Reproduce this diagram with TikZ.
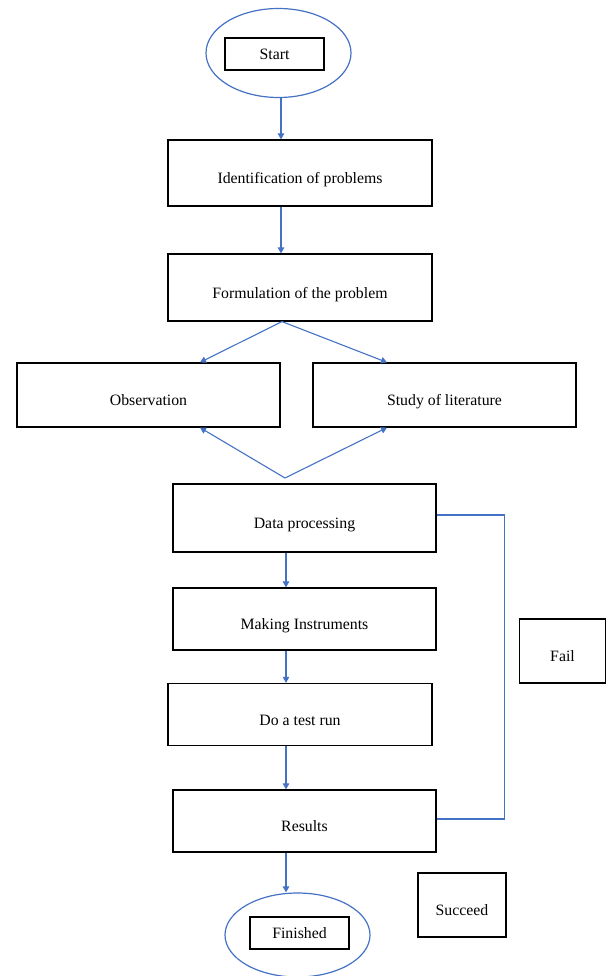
\documentclass[tikz,border=0pt]{standalone}
\usepackage{fontspec}
\setmainfont{Liberation Serif}
\usetikzlibrary{shapes.geometric,arrows.meta}
\definecolor{linkblue}{HTML}{4472C4}
\begin{document}
\begin{tikzpicture}[x=1pt,y=-1pt,
  box/.style={draw=black,line width=1.2pt,inner sep=0pt,
    font=\fontsize{15.8}{18}\selectfont,text height=24pt,text depth=3pt},
  tagbox/.style={draw=black,line width=1.2pt,inner sep=0pt,
    font=\fontsize{15.8}{18}\selectfont,minimum width=99pt,minimum height=32pt},
  oval/.style={draw=linkblue,line width=1.2pt,ellipse,inner sep=0pt,
    minimum width=145pt},
  arr/.style={draw=linkblue,line width=1.1pt,-{Triangle[length=6pt,width=6.5pt]}},
  loop/.style={draw=linkblue,line width=1.1pt}
]
\useasboundingbox (0,0) rectangle (607,976);
% start
\node[oval,minimum height=89pt] (start) at (278.5,53) {};
\node[tagbox] (starttag) at (274.5,54) {Start};
% main boxes
\node[box,minimum width=264pt,minimum height=66pt] (ident) at (300,173) {Identification of problems};
\node[box,minimum width=264pt,minimum height=67pt] (form) at (300,287.5) {Formulation of the problem};
\node[box,minimum width=263pt,minimum height=64pt] (obs) at (148.5,395) {Observation};
\node[box,minimum width=263pt,minimum height=64pt] (study) at (444.5,395) {Study of literature};
\node[box,minimum width=263pt,minimum height=68pt] (data) at (304.5,518) {Data processing};
\node[box,minimum width=263pt,minimum height=62pt] (make) at (304.5,619) {Making Instruments};
\node[box,minimum width=264pt,minimum height=62pt] (test) at (300,714.5) {Do a test run};
\node[box,minimum width=263pt,minimum height=62pt] (res) at (304.5,821) {Results};
\node[box,minimum width=86pt,minimum height=64pt] (fail) at (562.5,651) {Fail};
\node[box,minimum width=88pt,minimum height=64pt] (succ) at (462,905) {Succeed};
% finished
\node[oval,minimum height=84pt] (fin) at (297.5,935) {};
\node[tagbox] (fintag) at (299.5,933) {Finished};
% connectors
\coordinate (join) at (285,478);
\draw[arr] ([xshift=2.5pt]start.south) -- ([xshift=2.5pt]start.south |- ident.north);
\draw[arr] ([xshift=-19pt]ident.south) -- ([xshift=-19pt]form.north);
\draw[arr] ([xshift=-18pt]form.south) -- ([xshift=51.5pt]obs.north);
\draw[arr] ([xshift=-18pt]form.south) -- ([xshift=-57.5pt]study.north);
\draw[arr] (join) -- ([xshift=51.5pt]obs.south);
\draw[arr] (join) -- ([xshift=-57.5pt]study.south);
\draw[arr] ([xshift=-18.5pt]data.south) -- ([xshift=-18.5pt]make.north);
\draw[arr] ([xshift=-18.5pt]make.south) -- ([xshift=-14pt]test.north);
\draw[arr] ([xshift=-14pt]test.south) -- ([xshift=-18.5pt]res.north);
\draw[arr] ([xshift=-18.5pt]res.south) -- ([xshift=-18.5pt]res.south |- fin.north);
\draw[loop] ([yshift=3pt]data.east) -- ++(68,0) |- ([yshift=2pt]res.east);
\end{tikzpicture}
\end{document}
